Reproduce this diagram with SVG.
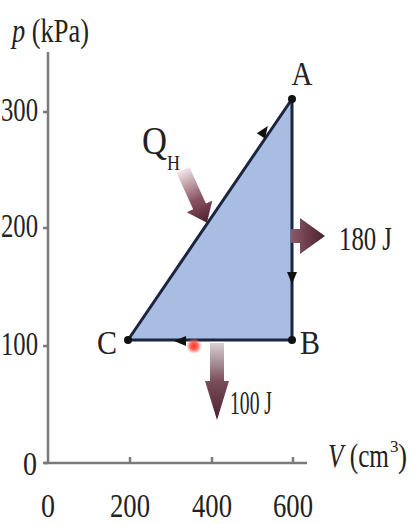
<svg xmlns="http://www.w3.org/2000/svg" width="410" height="524" viewBox="0 0 410 524">
<style>
.t{font-family:"Liberation Serif","Times New Roman",serif;font-size:34px;fill:#222}
.q{font-size:40px}
.sub{font-size:21px}
.sup{font-size:17px}
.ax{stroke:#7a7a7a;stroke-width:2.5;fill:none}
.edge{stroke:#1b2540;stroke-width:3;fill:none;stroke-linejoin:round}
.dot{fill:#111}
.dir{fill:#111}
</style>
<defs>
<linearGradient id="g1" x1="0" y1="0" x2="1" y2="0">
<stop offset="0" stop-color="#f2e4e8"/>
<stop offset="0.55" stop-color="#8a5565"/>
<stop offset="1" stop-color="#4e1f2c"/>
</linearGradient>
<linearGradient id="g2" x1="0" y1="0" x2="1" y2="0">
<stop offset="0" stop-color="#d8d0d4"/>
<stop offset="0.5" stop-color="#7a4d5a"/>
<stop offset="1" stop-color="#4e1f2c"/>
</linearGradient>
<linearGradient id="g3" x1="0" y1="0" x2="1" y2="0">
<stop offset="0" stop-color="#8a5a68"/>
<stop offset="1" stop-color="#4e1f2c"/>
</linearGradient>
<radialGradient id="rd">
<stop offset="0" stop-color="#ff3020"/>
<stop offset="0.5" stop-color="#ff5040" stop-opacity="0.85"/>
<stop offset="1" stop-color="#ff8a80" stop-opacity="0"/>
</radialGradient>
</defs>

<g id="axes">
<line class="ax" x1="48" y1="52" x2="48" y2="464"/>
<line class="ax" x1="44" y1="463" x2="307" y2="463"/>
<line class="ax" x1="43" y1="112" x2="48" y2="112"/>
<line class="ax" x1="43" y1="228" x2="48" y2="228"/>
<line class="ax" x1="43" y1="346" x2="48" y2="346"/>
<line class="ax" x1="43" y1="463" x2="48" y2="463"/>
<line class="ax" x1="130" y1="457" x2="130" y2="463"/>
<line class="ax" x1="212" y1="457" x2="212" y2="463"/>
<line class="ax" x1="293" y1="457" x2="293" y2="463"/>
<text class="t" x="12" y="42" textLength="77" lengthAdjust="spacingAndGlyphs"><tspan font-style="italic">p</tspan> (kPa)</text>
<text class="t" x="38" y="121" text-anchor="end" textLength="37" lengthAdjust="spacingAndGlyphs">300</text>
<text class="t" x="38" y="237" text-anchor="end" textLength="37" lengthAdjust="spacingAndGlyphs">200</text>
<text class="t" x="38" y="355" text-anchor="end" textLength="37" lengthAdjust="spacingAndGlyphs">100</text>
<text class="t" x="37" y="475" text-anchor="end" textLength="14" lengthAdjust="spacingAndGlyphs">0</text>
<text class="t" x="48" y="517" text-anchor="middle" textLength="14" lengthAdjust="spacingAndGlyphs">0</text>
<text class="t" x="130" y="517" text-anchor="middle" textLength="40" lengthAdjust="spacingAndGlyphs">200</text>
<text class="t" x="212" y="517" text-anchor="middle" textLength="40" lengthAdjust="spacingAndGlyphs">400</text>
<text class="t" x="293" y="517" text-anchor="middle" textLength="40" lengthAdjust="spacingAndGlyphs">600</text>
<text class="t" x="328" y="467" textLength="61" lengthAdjust="spacingAndGlyphs"><tspan font-style="italic">V</tspan> (cm</text>
<text class="t sup" x="390" y="452">3</text>
<text class="t" x="398" y="467" textLength="9" lengthAdjust="spacingAndGlyphs">)</text>
</g>

<g id="cycle">
<polygon points="128,340 292,99 292,340" fill="#a9bde3" stroke="none"/>
</g>

<g id="connectors">
<polyline class="edge" points="128,340 292,99 292,340 128,340"/>
<polygon class="dir" points="0,-5 12,0 0,5" transform="translate(261,136) rotate(-55.8)"/>
<polygon class="dir" points="0,-5 12,0 0,5" transform="translate(292,272) rotate(90)"/>
<polygon class="dir" points="0,-5 12,0 0,5" transform="translate(186,341) rotate(180)"/>
</g>

<g id="node-A">
<circle class="dot" cx="292" cy="99" r="4"/>
<text class="t" x="302" y="85" text-anchor="middle" textLength="21" lengthAdjust="spacingAndGlyphs">A</text>
</g>
<g id="node-B">
<circle class="dot" cx="292" cy="340" r="4"/>
<text class="t" x="300" y="354" textLength="20" lengthAdjust="spacingAndGlyphs">B</text>
</g>
<g id="node-C">
<circle class="dot" cx="128" cy="340" r="4"/>
<text class="t" x="97" y="354" textLength="20" lengthAdjust="spacingAndGlyphs">C</text>
</g>

<g id="heat-in">
<path d="M0,-7 L40,-7 L40,-14 L58,0 L40,14 L40,7 L0,7 Z" fill="url(#g1)" transform="translate(183,170) rotate(65.6)"/>
<text class="t q" x="142" y="154" textLength="25" lengthAdjust="spacingAndGlyphs">Q</text>
<text class="t sub" x="167" y="170" textLength="13" lengthAdjust="spacingAndGlyphs">H</text>
</g>

<g id="heat-out-180">
<path d="M0,-7 L9,-7 L9,-18 L34,0 L9,18 L9,7 L0,7 Z" fill="url(#g3)" transform="translate(291,236)"/>
<text class="t" x="339" y="250" textLength="53" lengthAdjust="spacingAndGlyphs">180 J</text>
</g>

<g id="heat-out-100">
<path d="M0,-7 L38,-7 L38,-12 L77,0 L38,12 L38,7 L0,7 Z" fill="url(#g2)" transform="translate(217,343) rotate(90)"/>
<text class="t" x="230" y="414" textLength="42" lengthAdjust="spacingAndGlyphs">100 J</text>
</g>

<g id="mark">
<circle cx="194" cy="346" r="8" fill="url(#rd)"/>
</g>
</svg>
